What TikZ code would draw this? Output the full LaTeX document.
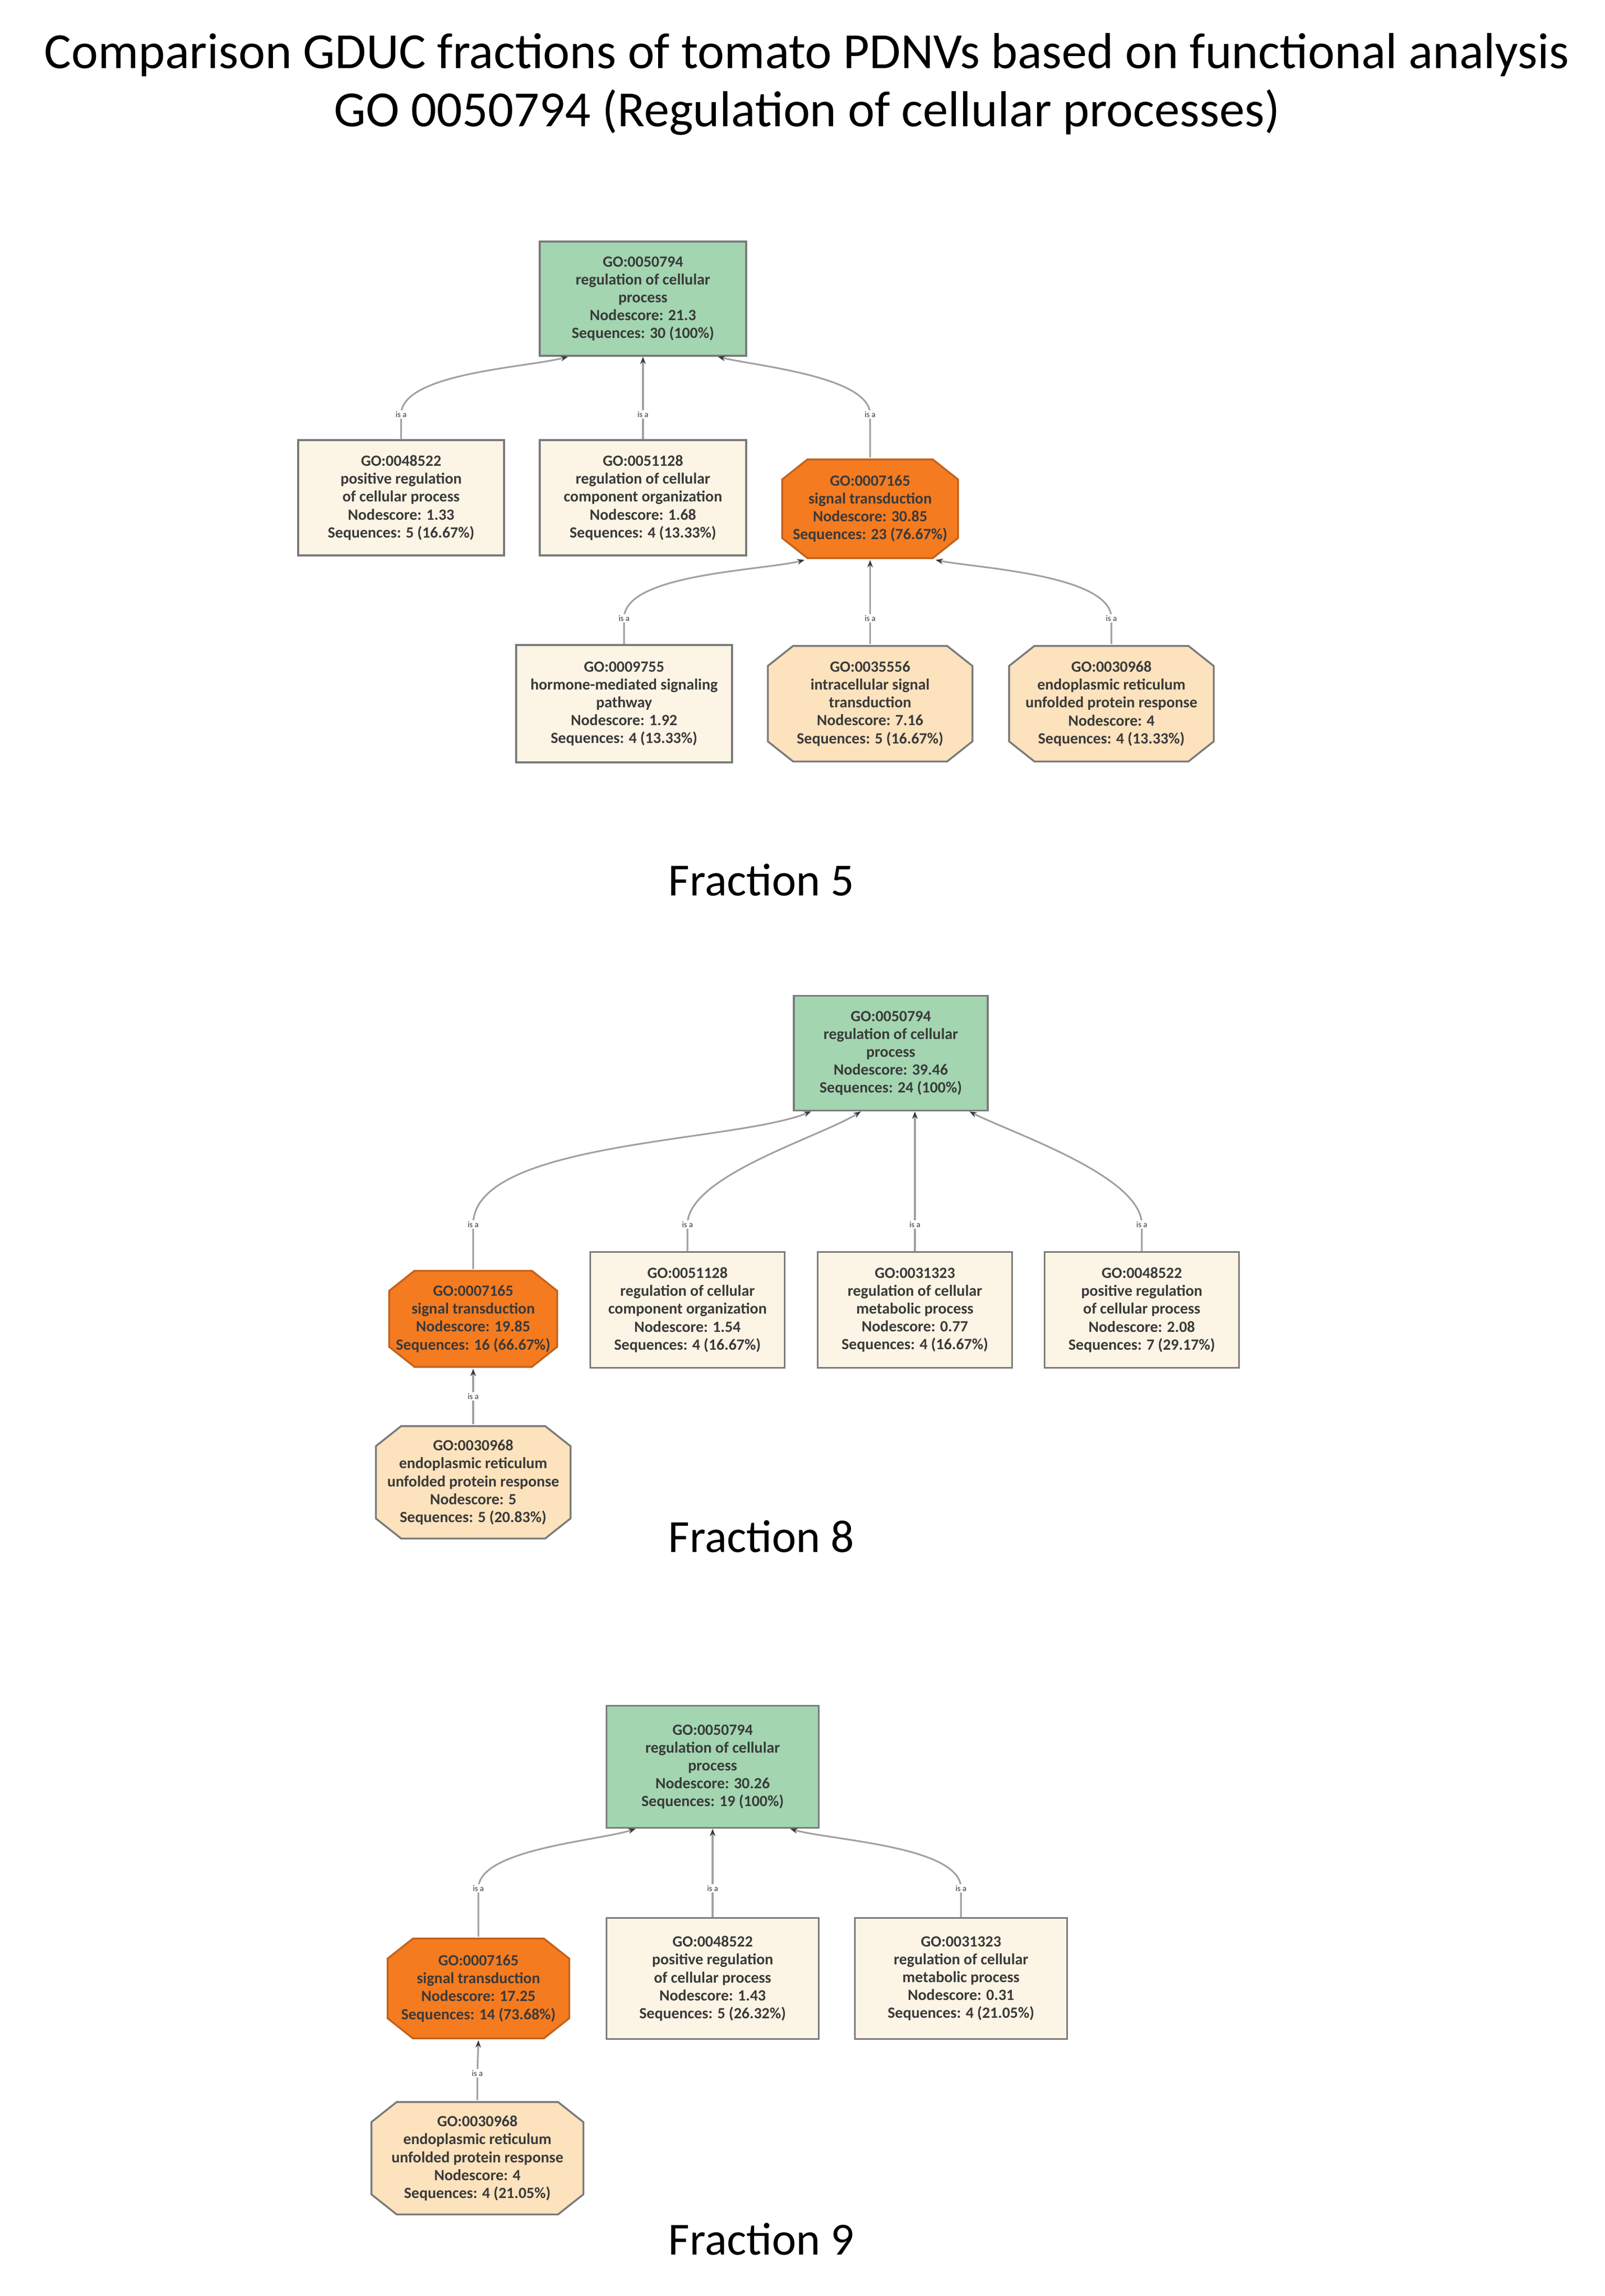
\documentclass[tikz,border=0pt]{standalone}
\usepackage{fontspec}
\setmainfont{Carlito}
\usetikzlibrary{arrows.meta}
\definecolor{goGreen}{HTML}{A2D5B0}
\definecolor{goBeige}{HTML}{FCF4E4}
\definecolor{goPeach}{HTML}{FCE2BD}
\definecolor{goOrange}{HTML}{F47B20}
\definecolor{goBorder}{HTML}{7A7A7A}
\definecolor{goText}{HTML}{3A3A3A}
\definecolor{goEdge}{HTML}{A0A0A0}
\tikzset{gonode/.style = {draw=goBorder, line width=1pt, align=center, text=goText, inner sep=2pt,
                          font=\fontsize{8.5}{9.7}\selectfont\bfseries}}
\tikzset{goroot/.style = {gonode, rectangle, fill=goGreen}}
\tikzset{gobox/.style = {gonode, rectangle, fill=goBeige}}
\tikzset{octo/.style 2 args = {gonode, rectangle, draw=none, fill=white,
                               path picture={
                                 \filldraw [fill=#1, draw=#2, line width=1pt]
                                   ([xshift=0.5cm, yshift=-0.5pt]path picture bounding box.north west)
                                   -- ([xshift=-0.5cm, yshift=-0.5pt]path picture bounding box.north east)
                                   -- ([xshift=-0.5pt, yshift=-0.4cm]path picture bounding box.north east)
                                   -- ([xshift=-0.5pt, yshift=0.4cm]path picture bounding box.south east)
                                   -- ([xshift=-0.5cm, yshift=0.5pt]path picture bounding box.south east)
                                   -- ([xshift=0.5cm, yshift=0.5pt]path picture bounding box.south west)
                                   -- ([xshift=0.5pt, yshift=0.4cm]path picture bounding box.south west)
                                   -- ([xshift=0.5pt, yshift=-0.4cm]path picture bounding box.north west) -- cycle;}}}
\tikzset{gooct/.style = {octo={goPeach}{goBorder}}}
\tikzset{gohot/.style = {octo={goOrange}{goOrange!80!black}}}
\tikzset{isa/.style = {fill=white, inner sep=0.6pt, text=goText, font=\fontsize{4.5}{5}\selectfont}}
\tikzset{isaedge/.style = {draw=goEdge, line width=0.9pt, looseness=0.6,
                           -{Stealth[length=4pt,width=3pt,color=goText]}}}
\tikzset{fraclabel/.style = {font=\fontsize{25}{28}\selectfont}}

\begin{document}
\begin{tikzpicture}
	\useasboundingbox (0,0) rectangle (30.62,-43.82);
	\node [align=center, font=\fontsize{27.5}{31.6}\selectfont] (title) at (15.40, -1.61)
		{Comparison GDUC fractions of tomato PDNVs based on functional analysis\\GO 0050794 (Regulation of cellular processes)};
	% fraction 5
	\begin{scope}[shift={(0,-5.70)}]
		\node [goroot, minimum width=3.94cm, minimum height=2.18cm] (0) at (12.27, 0)
			{GO:0050794\\regulation of cellular\\process\\Nodescore: 21.3\\Sequences: 30 (100\%)};
		\node [gobox, minimum width=3.93cm, minimum height=2.2cm] (1) at (7.655, -3.80)
			{GO:0048522\\positive regulation\\of cellular process\\Nodescore: 1.33\\Sequences: 5 (16.67\%)};
		\node [gobox, minimum width=3.94cm, minimum height=2.2cm] (2) at (12.27, -3.80)
			{GO:0051128\\regulation of cellular\\component organization\\Nodescore: 1.68\\Sequences: 4 (13.33\%)};
		\node [gohot, minimum width=3.39cm, minimum height=1.92cm] (3) at (16.605, -4.01)
			{GO:0007165\\signal transduction\\Nodescore: 30.85\\Sequences: 23 (76.67\%)};
		\node [gobox, minimum width=4.12cm, minimum height=2.24cm] (4) at (11.91, -7.73)
			{GO:0009755\\hormone-mediated signaling\\pathway\\Nodescore: 1.92\\Sequences: 4 (13.33\%)};
		\node [gooct, minimum width=3.94cm, minimum height=2.24cm] (5) at (16.605, -7.73)
			{GO:0035556\\intracellular signal\\transduction\\Nodescore: 7.16\\Sequences: 5 (16.67\%)};
		\node [gooct, minimum width=3.94cm, minimum height=2.24cm] (6) at (21.21, -7.73)
			{GO:0030968\\endoplasmic reticulum\\unfolded protein response\\Nodescore: 4\\Sequences: 4 (13.33\%)};
		\draw [isaedge] (1.north) -- (1.north |- 0,-2.21) node [isa] {is a} to [out=90, in=-165] ([xshift=-1.43cm]0.south);
		\draw [isaedge] (2.north) -- (2.north |- 0,-2.21) node [isa] {is a} -- (0.south);
		\draw [isaedge] (3.north) -- (3.north |- 0,-2.21) node [isa] {is a} to [out=90, in=-14] ([xshift=1.43cm]0.south);
		\draw [isaedge] (4.north) -- (4.north |- 0,-6.10) node [isa] {is a} to [out=90, in=-166] ([xshift=-1.25cm]3.south);
		\draw [isaedge] (5.north) -- (5.north |- 0,-6.10) node [isa] {is a} -- (3.south);
		\draw [isaedge] (6.north) -- (6.north |- 0,-6.10) node [isa] {is a} to [out=90, in=-11] ([xshift=1.25cm]3.south);
	\end{scope}
	\node [fraclabel] (f5) at (14.53, -16.79) {Fraction 5};
	% fraction 8
	\begin{scope}[shift={(0,-20.10)}]
		\node [goroot, minimum width=3.70cm, minimum height=2.19cm] (0) at (17.00, 0)
			{GO:0050794\\regulation of cellular\\process\\Nodescore: 39.46\\Sequences: 24 (100\%)};
		\node [gohot, minimum width=3.24cm, minimum height=1.87cm] (1) at (9.03, -5.07)
			{GO:0007165\\signal transduction\\Nodescore: 19.85\\Sequences: 16 (66.67\%)};
		\node [gobox, minimum width=3.71cm, minimum height=2.21cm] (2) at (13.12, -4.90)
			{GO:0051128\\regulation of cellular\\component organization\\Nodescore: 1.54\\Sequences: 4 (16.67\%)};
		\node [gobox, minimum width=3.71cm, minimum height=2.21cm] (3) at (17.46, -4.90)
			{GO:0031323\\regulation of cellular\\metabolic process\\Nodescore: 0.77\\Sequences: 4 (16.67\%)};
		\node [gobox, minimum width=3.71cm, minimum height=2.21cm] (4) at (21.79, -4.90)
			{GO:0048522\\positive regulation\\of cellular process\\Nodescore: 2.08\\Sequences: 7 (29.17\%)};
		\node [gooct, minimum width=3.75cm, minimum height=2.18cm] (5) at (9.03, -8.19)
			{GO:0030968\\endoplasmic reticulum\\unfolded protein response\\Nodescore: 5\\Sequences: 5 (20.83\%)};
		\draw [isaedge] (1.north) -- (1.north |- 0,-3.27) node [isa] {is a} to [out=90, in=-158] ([xshift=-1.52cm]0.south);
		\draw [isaedge] (2.north) -- (2.north |- 0,-3.27) node [isa] {is a} to [out=90, in=-148] ([xshift=-0.57cm]0.south);
		\draw [isaedge] (3.north) -- (3.north |- 0,-3.27) node [isa] {is a} -- (3.north |- 0.south);
		\draw [isaedge] (4.north) -- (4.north |- 0,-3.27) node [isa] {is a} to [out=90, in=-27] ([xshift=1.50cm]0.south);
		\draw [isaedge] (5.north) -- (5.north |- 0,-6.55) node [isa] {is a} -- (1.south);
	\end{scope}
	\node [fraclabel] (f8) at (14.53, -29.32) {Fraction 8};
	% fraction 9
	\begin{scope}[shift={(0,-33.72)}]
		\node [goroot, minimum width=4.05cm, minimum height=2.33cm] (0) at (13.60, 0)
			{GO:0050794\\regulation of cellular\\process\\Nodescore: 30.26\\Sequences: 19 (100\%)};
		\node [gohot, minimum width=3.50cm, minimum height=1.94cm] (1) at (9.13, -4.23)
			{GO:0007165\\signal transduction\\Nodescore: 17.25\\Sequences: 14 (73.68\%)};
		\node [gobox, minimum width=4.05cm, minimum height=2.31cm] (2) at (13.60, -4.04)
			{GO:0048522\\positive regulation\\of cellular process\\Nodescore: 1.43\\Sequences: 5 (26.32\%)};
		\node [gobox, minimum width=4.05cm, minimum height=2.31cm] (3) at (18.34, -4.04)
			{GO:0031323\\regulation of cellular\\metabolic process\\Nodescore: 0.31\\Sequences: 4 (21.05\%)};
		\node [gooct, minimum width=4.08cm, minimum height=2.18cm] (4) at (9.11, -7.47)
			{GO:0030968\\endoplasmic reticulum\\unfolded protein response\\Nodescore: 4\\Sequences: 4 (21.05\%)};
		\draw [isaedge] (1.north) -- (1.north |- 0,-2.32) node [isa] {is a} to [out=90, in=-162] ([xshift=-1.47cm]0.south);
		\draw [isaedge] (2.north) -- (2.north |- 0,-2.32) node [isa] {is a} -- (0.south);
		\draw [isaedge] (3.north) -- (3.north |- 0,-2.32) node [isa] {is a} to [out=90, in=-16] ([xshift=1.48cm]0.south);
		\draw [isaedge] (4.north) -- (4.north |- 0,-5.85) node [isa] {is a} -- (1.south);
	\end{scope}
	\node [fraclabel] (f9) at (14.53, -42.73) {Fraction 9};
\end{tikzpicture}
\end{document}
